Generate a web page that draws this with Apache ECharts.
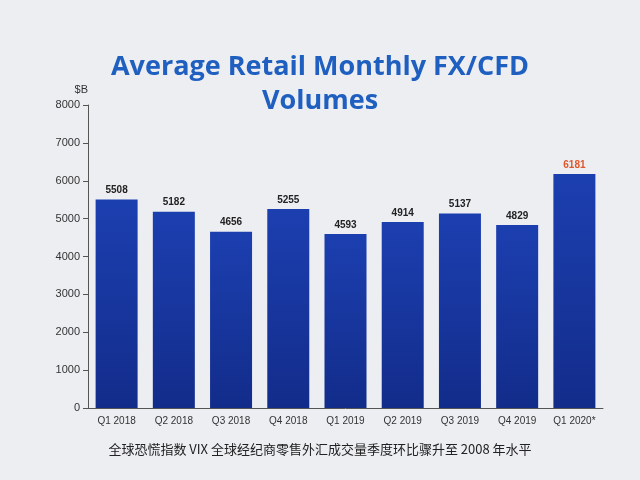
<!DOCTYPE html>
<html lang="en">
<head>
<meta charset="UTF-8">
<title>FX/CFD Volumes</title>
<script src="https://cdn.jsdelivr.net/npm/echarts@6/dist/echarts.min.js"></script>
<style>body{margin:0;background:#eceef2;}</style>
</head>
<body>
<div id="main" style="width:640px;height:480px;"></div>
<script>
var quarters = ['Q1 2018','Q2 2018','Q3 2018','Q4 2018','Q1 2019','Q2 2019','Q3 2019','Q4 2019','Q1 2020*'];
var volumes = [5508, 5182, 4656, 5255, 4593, 4914, 5137, 4829, 6181];
var yTicks = [0, 1000, 8000];

var myChart = echarts.init(document.getElementById('main'));
var barData = volumes.map(function (v, i) {
    return {
        value: v,
        label: { color: i === volumes.length - 1 ? '#e0562a' : '#222' }
    };
});
myChart.setOption({
    backgroundColor: '#eceef2',
    title: [{
        text: 'Average Retail Monthly FX/CFD\nVolumes',
        left: 'center', top: 45,
        textStyle: { color: '#1f5fc0', fontSize: 27, fontWeight: 'bold', fontFamily: 'Open Sans', lineHeight: 34 }
    }, {
        text: '全球恐慌指数 VIX 全球经纪商零售外汇成交量季度环比骤升至 2008 年水平',
        left: 'center', top: 438,
        textStyle: { color: '#222', fontSize: 13, fontWeight: 'normal', fontFamily: 'Noto Sans CJK SC' }
    }],
    grid: { left: 88, right: 37, top: 105, bottom: 72 },
    xAxis: {
        type: 'category', data: quarters,
        axisLine: { lineStyle: { color: '#555' } },
        axisTick: { show: false },
        axisLabel: { color: '#333', fontSize: 10 }
    },
    yAxis: {
        type: 'value', name: '$B', min: yTicks[0], max: yTicks[2], interval: yTicks[1],
        nameGap: 10, nameTextStyle: { color: '#333', fontSize: 11, align: 'right' },
        axisLine: { show: true, lineStyle: { color: '#555' } },
        axisTick: { show: true, lineStyle: { color: '#555' } },
        splitLine: { show: false },
        axisLabel: { color: '#333', fontSize: 11, formatter: function (v) { return String(v); } }
    },
    series: [{
        type: 'bar', data: barData, barWidth: 42,
        itemStyle: {
            color: new echarts.graphic.LinearGradient(0, 0, 0, 1, [
                { offset: 0, color: '#1c3fb0' },
                { offset: 1, color: '#122c8a' }
            ])
        },
        label: { show: true, position: 'top', fontSize: 10, fontWeight: 'bold', distance: 4 }
    }]
});
</script>
</body>
</html>
